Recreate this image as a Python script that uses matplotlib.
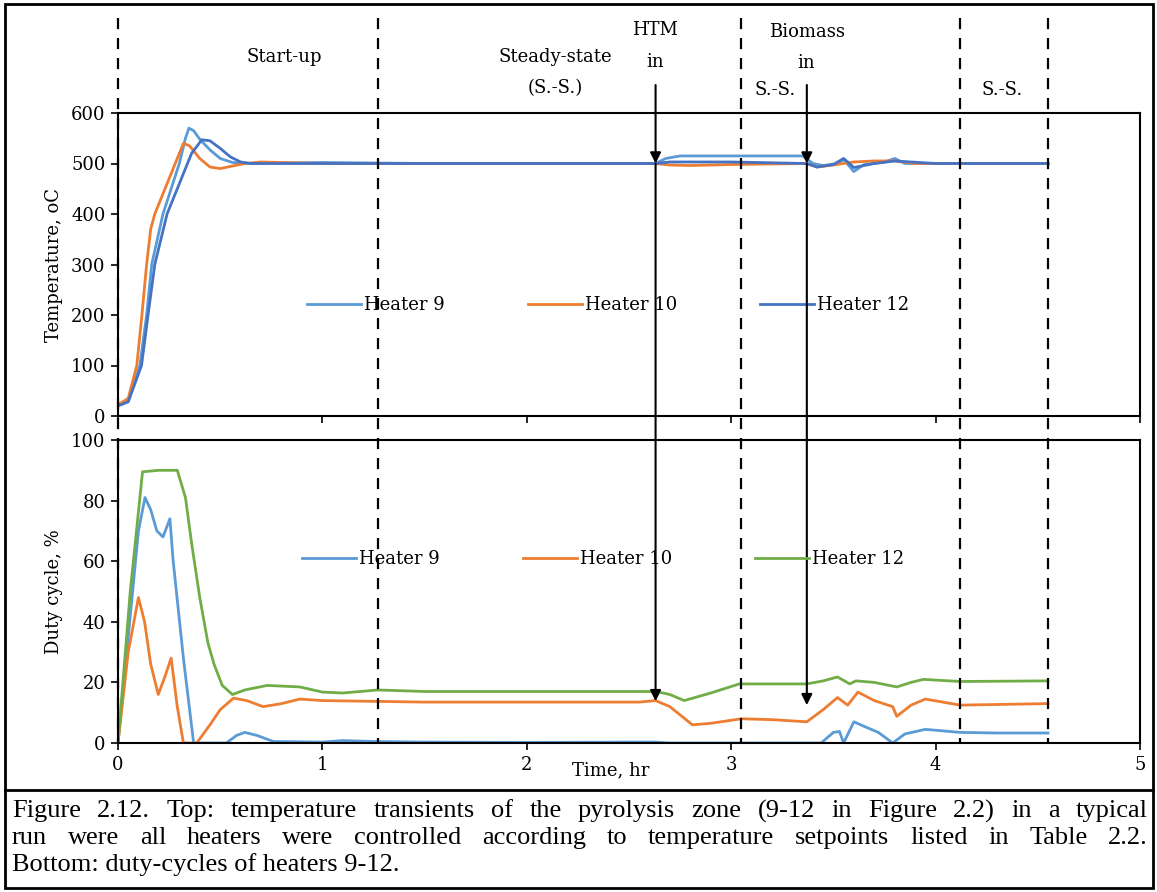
import matplotlib
matplotlib.use("Agg")
import matplotlib.pyplot as plt
from matplotlib.lines import Line2D
from matplotlib.patches import Rectangle
from matplotlib.transforms import blended_transform_factory

# ---- data (time in hr) ----
t9_top = [0, 0.05, 0.107, 0.14, 0.165, 0.22, 0.26, 0.30, 0.33, 0.347, 0.37, 0.40, 0.45, 0.50, 0.56,
          0.62, 1.0, 1.5, 2.0, 2.63, 2.68, 2.75, 3.0, 3.35, 3.40, 3.45, 3.52, 3.55, 3.60, 3.65, 3.75,
          3.80, 3.85, 4.0, 4.55]
temp9 = [22, 30, 100, 200, 300, 400, 450, 500, 550, 570, 565, 548, 527, 510, 502,
         500, 502, 500, 500, 500, 510, 515, 515, 515, 500, 496, 500, 508, 484, 498, 503,
         510, 500, 500, 500]

t10_top = [0, 0.05, 0.092, 0.117, 0.14, 0.16, 0.18, 0.23, 0.28, 0.32, 0.35, 0.40, 0.45, 0.50, 0.56,
           0.62, 0.7, 1.0, 2.63, 2.7, 2.8, 3.0, 3.37, 3.42, 3.5, 3.6, 3.7, 3.8, 3.9, 4.55]
temp10 = [22, 35, 100, 200, 300, 370, 400, 450, 500, 540, 535, 510, 493, 490, 495,
          500, 503, 500, 500, 497, 496, 498, 500, 493, 497, 503, 505, 505, 500, 500]

t12_top = [0, 0.05, 0.115, 0.147, 0.18, 0.24, 0.30, 0.36, 0.41, 0.45, 0.50, 0.55, 0.60, 0.65,
           1.0, 2.63, 2.7, 3.0, 3.37, 3.42, 3.5, 3.55, 3.6, 3.7, 3.8, 4.0, 4.55]
temp12 = [20, 28, 100, 200, 300, 400, 460, 520, 547, 545, 530, 513, 503, 500,
          500, 500, 503, 503, 500, 493, 498, 510, 492, 500, 505, 500, 500]

t9_bot = [0, 0.05, 0.1, 0.132, 0.16, 0.19, 0.22, 0.254, 0.27, 0.32, 0.37, 0.53, 0.58, 0.62, 0.68,
          0.76, 1.0, 1.1, 1.25, 1.5, 2.0, 2.5, 2.63, 2.7, 3.44, 3.5, 3.53, 3.55, 3.6, 3.65, 3.72,
          3.79, 3.85, 3.95, 4.12, 4.3, 4.55]
duty9 = [0, 35, 70, 81, 77, 70, 68, 74, 60, 28, 0, 0, 2.5, 3.5, 2.5,
         0.5, 0.3, 0.8, 0.5, 0.3, 0.2, 0.3, 0.3, 0, 0, 3.5, 3.8, 0, 7, 5.5, 3.5,
         0, 3, 4.5, 3.5, 3.3, 3.3]

t10_bot = [0, 0.05, 0.10, 0.13, 0.16, 0.197, 0.23, 0.26, 0.29, 0.32, 0.385, 0.45, 0.5, 0.565, 0.63,
           0.71, 0.8, 0.89, 1.0, 1.5, 2.0, 2.55, 2.63, 2.7, 2.81, 2.9, 3.05, 3.2, 3.37, 3.45, 3.52,
           3.57, 3.62, 3.7, 3.79, 3.81, 3.88, 3.95, 4.12, 4.55]
duty10 = [0, 30, 48, 40, 26, 16, 22, 28, 12, 0, 0, 6, 11, 14.8, 14,
          12, 13, 14.5, 14, 13.5, 13.5, 13.5, 14, 12, 6, 6.5, 8, 7.7, 7, 11, 15,
          12.5, 16.8, 14, 12, 8.8, 12.5, 14.5, 12.5, 13]

t12_bot = [0, 0.06, 0.12, 0.2, 0.29, 0.33, 0.36, 0.40, 0.44, 0.47, 0.51, 0.56, 0.62, 0.73, 0.89,
           1.0, 1.1, 1.27, 1.5, 2.0, 2.5, 2.63, 2.7, 2.77, 2.9, 3.04, 3.37, 3.45, 3.52, 3.58, 3.61,
           3.7, 3.81, 3.88, 3.94, 4.12, 4.55]
duty12 = [0, 50, 89.5, 90, 90, 81, 66, 48, 33, 26, 19, 16, 17.5, 19, 18.5,
          16.8, 16.5, 17.5, 17, 17, 17, 17, 16, 14, 16.5, 19.5, 19.5, 20.5, 21.8, 19.5, 20.5,
          20, 18.5, 20, 21, 20.3, 20.5]

phase_lines = [0, 1.27, 3.05, 4.12, 4.55]
htm_time = 2.63
biomass_time = 3.37

C_LBLUE = "#5B9BD5"
C_ORANGE = "#ED7D31"
C_DBLUE = "#4472C4"
C_GREEN = "#70AD47"

FONT = "DejaVu Serif"
FS = 13

W, H = 1157, 892
fig = plt.figure(figsize=(W / 100, H / 100), dpi=100)


def px(x0, y0, x1, y1):
    # pixel box (top-left origin) -> figure rect
    return [x0 / W, 1 - y1 / H, (x1 - x0) / W, (y1 - y0) / H]


ax1 = fig.add_axes(px(118, 113, 1140, 416))
ax2 = fig.add_axes(px(118, 440, 1140, 743))

lw = 2.0
ax1.plot(t9_top, temp9, color=C_LBLUE, lw=lw, label="Heater 9")
ax1.plot(t10_top, temp10, color=C_ORANGE, lw=lw, label="Heater 10")
ax1.plot(t12_top, temp12, color=C_DBLUE, lw=lw, label="Heater 12")

ax2.plot(t9_bot, duty9, color=C_LBLUE, lw=lw, label="Heater 9")
ax2.plot(t10_bot, duty10, color=C_ORANGE, lw=lw, label="Heater 10")
ax2.plot(t12_bot, duty12, color=C_GREEN, lw=lw, label="Heater 12")

for ax in (ax1, ax2):
    ax.set_xlim(0, 5)
    ax.set_xticks(range(6))
    for s in ax.spines.values():
        s.set_linewidth(1.5)
        s.set_color("black")
    ax.tick_params(direction="out", length=5, width=1.2, labelsize=FS, pad=4)
    for lab in ax.get_xticklabels() + ax.get_yticklabels():
        lab.set_fontfamily(FONT)

ax1.set_ylim(0, 600)
ax1.set_yticks(range(0, 601, 100))
ax1.tick_params(axis="x", labelbottom=False)
ax2.set_ylim(0, 100)
ax2.set_yticks(range(0, 101, 20))

ax1.set_ylabel("Temperature, oC", fontfamily=FONT, fontsize=FS, labelpad=6)
ax2.set_ylabel("Duty cycle, %", fontfamily=FONT, fontsize=FS, labelpad=6)
ax2.text(2.41, -0.09, "Time, hr", transform=blended_transform_factory(ax2.transData, ax2.transAxes),
         ha="center", va="center", fontfamily=FONT, fontsize=FS)

leg_kw = dict(ncol=3, frameon=False, handlelength=3.0, handletextpad=0.15, columnspacing=4.6,
              prop={"family": FONT, "size": FS}, loc="center left", borderaxespad=0)
ax1.legend(bbox_to_anchor=(0.178, 0.366), **leg_kw)
ax2.legend(bbox_to_anchor=(0.173, 0.607), **leg_kw)

# phase separators: dashed verticals across both panels
bt = blended_transform_factory(ax2.transData, fig.transFigure)
for t in phase_lines:
    fig.add_artist(Line2D([t, t], [1 - 18 / H, 1 - 743 / H], transform=bt, color="black",
                          lw=1.6, linestyle=(0, (5, 4)), zorder=5))

# event arrows
arrow_kw = dict(arrowstyle="-|>", color="black", lw=1.5, mutation_scale=16, shrinkA=0, shrinkB=0)
for t, tip in ((htm_time, 13.8), (biomass_time, 12.5)):
    ax1.annotate("", xy=(t, 500), xytext=(t, 1 - 85 / H), textcoords=("data", "figure fraction"),
                 arrowprops=arrow_kw, annotation_clip=False)
    ax2.annotate("", xy=(t, tip), xytext=(t, 500), textcoords=ax1.transData,
                 arrowprops=arrow_kw, annotation_clip=False)

# phase annotations (pixel positions)
labels = [
    ("Start-up", 284, 57),
    ("Steady-state", 555, 57),
    ("(S.-S.)", 555, 88),
    ("HTM", 655, 30),
    ("in", 655, 62),
    ("Biomass", 807, 32),
    ("in", 806, 63),
    ("S.-S.", 775, 90),
    ("S.-S.", 1002, 90),
]
for txt, x, y in labels:
    fig.text(x / W, 1 - y / H, txt, ha="center", va="center", fontfamily=FONT, fontsize=FS)

# outer frame and caption separator
fig.add_artist(Rectangle((5 / W, 1 - 888 / H), 1148 / W, 884 / H, transform=fig.transFigure,
                         fill=False, edgecolor="black", lw=2))
fig.add_artist(Line2D([5 / W, 1153 / W], [1 - 790 / H, 1 - 790 / H], transform=fig.transFigure,
                      color="black", lw=2))

# caption, first two lines justified
cap_lines = [
    "Figure 2.12. Top: temperature transients of the pyrolysis zone (9-12 in Figure 2.2) in a typical",
    "run were all heaters were controlled according to temperature setpoints listed in Table 2.2.",
    "Bottom: duty-cycles of heaters 9-12.",
]
cap_y = [811, 838, 865]
cap_font = dict(fontfamily="Liberation Serif", fontsize=19)
x_left, x_right = 12, 1148
renderer = fig.canvas.get_renderer()
for i, (line, y) in enumerate(zip(cap_lines, cap_y)):
    if i == len(cap_lines) - 1:
        fig.text(x_left / W, 1 - y / H, line, ha="left", va="center", **cap_font)
        continue
    words = line.split(" ")
    arts = [fig.text(0, 1 - y / H, w, ha="left", va="center", **cap_font) for w in words]
    widths = [a.get_window_extent(renderer).width for a in arts]
    gap = (x_right - x_left - sum(widths)) / (len(words) - 1)
    x = x_left
    for a, w in zip(arts, widths):
        a.set_x(x / W)
        x += w + gap

fig.savefig("out.png", dpi=100)
